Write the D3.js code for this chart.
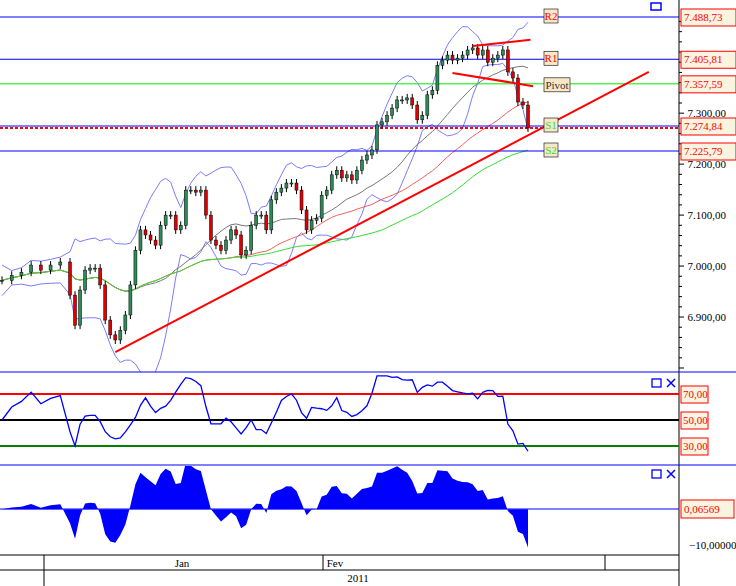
<!DOCTYPE html>
<html>
<head>
<meta charset="UTF-8">
<script src="https://d3js.org/d3.v7.min.js"></script>
<style>
  body { margin: 0; background: #fff; }
  text { font-family: "Liberation Serif", serif; font-size: 11px; }
</style>
</head>
<body>
<svg width="736" height="586"></svg>
<script>
// closes
const closes = [6972,6982,6988,7002,6992,7002,7008,6943,6884,6953,6992,6996,6996,6963,6894,6865,6855,6874,6904,6963,
  7031,7071,7061,7051,7041,7080,7100,7100,7071,7080,7149,7149,7145,7149,7100,7051,7041,7031,7051,7071,
  7061,7022,7031,7080,7100,7100,7071,7130,7145,7153,7163,7163,7149,7110,7071,7090,7094,7139,7149,7179,
  7188,7173,7179,7169,7188,7208,7218,7228,7277,7283,7296,7310,7326,7326,7330,7316,7287,7296,7336,7345,
  7394,7404,7414,7404,7408,7414,7424,7428,7414,7424,7400,7408,7414,7424,7381,7369,7322,7316,7271];
const pivotNames = ["R2", "R1", "Pivot", "S1", "S2"];
const pivotValues = [7488.73, 7405.81, 7357.59, 7274.84, 7225.79];
const pivotColors = ["blue", "blue", "#00ee00", "blue", "blue"];
const priceTicks = [7300, 7200, 7100, 7000, 6900];
const rsiLevels = [70, 50, 30];
const rsiColors = ["red", "black", "green"];
const trendLine = [[16, 6831], [122, 7381]];
const channelUp = [[87, 7432], [98.5, 7444]];
const channelDn = [[83, 7379], [99, 7353]];
const months = [{name: "Jan", x: 182}, {name: "Fev", x: 335}];

const svg = d3.select("svg");
const loc = d3.formatLocale({decimal: ",", thousands: ".", grouping: [3], currency: ["", ""]});
const f2 = loc.format(",.2f");
const axisX = 679;

const x = d3.scaleLinear().domain([0, 7, 98]).range([2, 70, 528]);
const y = d3.scaleLinear().domain([7488.73, 7225.79]).range([17, 151]);

// indicators from closes
function sma(n) {
  return closes.map((c, i) => d3.mean(closes.slice(Math.max(0, i - n + 1), i + 1)));
}
const ma20 = sma(20), ma40 = sma(40), ma70 = sma(70);
const bb = closes.map((c, i) => {
  const w = closes.slice(Math.max(0, i - 9), i + 1);
  return [d3.mean(w), 2 * (d3.deviation(w) || 15)];
});

const main = svg.append("g");
main.append("clipPath").attr("id", "cm").append("rect").attr("width", axisX).attr("height", 372);
const g = main.append("g").attr("clip-path", "url(#cm)");

const line = arr => d3.line().x((d, i) => x(i)).y(d => y(d))(arr);
g.append("path").attr("d", line(bb.map(b => b[0] + b[1]))).attr("fill", "none").attr("stroke", "#7b7bff").attr("stroke-width", 1);
g.append("path").attr("d", line(bb.map(b => b[0] - b[1]))).attr("fill", "none").attr("stroke", "#7b7bff").attr("stroke-width", 1);
g.append("path").attr("d", line(ma20)).attr("fill", "none").attr("stroke", "#777").attr("stroke-width", 1);
g.append("path").attr("d", line(ma40)).attr("fill", "none").attr("stroke", "#f06060").attr("stroke-width", 1);
g.append("path").attr("d", line(ma70)).attr("fill", "none").attr("stroke", "#33dd33").attr("stroke-width", 1);

// pivot lines
pivotValues.forEach((v, i) => {
  g.append("line").attr("x1", 0).attr("x2", axisX).attr("y1", y(v)).attr("y2", y(v))
    .attr("stroke", pivotColors[i]).attr("stroke-width", 1);
});
g.append("line").attr("x1", 0).attr("x2", axisX).attr("y1", y(pivotValues[3]) + 2).attr("y2", y(pivotValues[3]) + 2)
  .attr("stroke", "red").attr("stroke-width", 2).attr("stroke-dasharray", "3,2");

// candles
closes.forEach((c, i) => {
  const o = i ? closes[i - 1] : c;
  const hi = Math.max(o, c), lo = Math.min(o, c);
  g.append("line").attr("x1", x(i)).attr("x2", x(i)).attr("y1", y(hi) - 4).attr("y2", y(lo) + 4).attr("stroke", "#000");
  g.append("rect").attr("x", x(i) - 1.5).attr("width", 3).attr("y", y(hi)).attr("height", Math.max(1, y(lo) - y(hi)))
    .attr("fill", c >= o ? "#2e8b57" : "#e00000").attr("stroke", "#000").attr("stroke-width", 0.5);
});

// trend lines
[trendLine, channelUp, channelDn].forEach(pts => {
  g.append("line").attr("x1", x(pts[0][0])).attr("y1", y(pts[0][1])).attr("x2", x(pts[1][0])).attr("y2", y(pts[1][1]))
    .attr("stroke", "red").attr("stroke-width", 2);
});

// pivot labels
pivotNames.forEach((n, i) => {
  const yy = y(pivotValues[i]) + (i === 2 ? 1 : -1);
  const w = n === "Pivot" ? 26 : 14;
  g.append("rect").attr("x", 544).attr("y", yy - 7).attr("width", w).attr("height", 14)
    .attr("fill", "#f8e8c8").attr("stroke", "#000").attr("stroke-width", 0.6);
  g.append("text").attr("x", 544 + w / 2).attr("y", yy + 4).attr("text-anchor", "middle")
    .attr("fill", i < 2 ? "red" : i === 2 ? "#333" : "#33dd33").text(n);
});

// right axis
svg.append("line").attr("x1", axisX).attr("x2", axisX).attr("y1", 0).attr("y2", 586).attr("stroke", "#000");
d3.range(6800, 7500, 20).forEach(t => {
  if (y(t) < 0 || y(t) > 368) return;
  svg.append("line").attr("x1", axisX).attr("x2", axisX + (t % 100 ? 3 : 5)).attr("y1", y(t)).attr("y2", y(t)).attr("stroke", "#000");
});
priceTicks.forEach(t => {
  svg.append("text").attr("x", 726).attr("y", y(t) + 4).attr("text-anchor", "end").text(f2(t));
});
pivotValues.forEach(v => {
  svg.append("rect").attr("x", 681).attr("y", y(v) - 8).attr("width", 55).attr("height", 17)
    .attr("fill", "#f8f4e0").attr("stroke", "red");
  svg.append("text").attr("x", 684).attr("y", y(v) + 4).attr("fill", "red").text(f2(v));
});
svg.append("rect").attr("x", 651).attr("y", 3).attr("width", 10).attr("height", 7).attr("fill", "none").attr("stroke", "blue").attr("stroke-width", 1.5);

// panel separators
[372, 465].forEach(yy => svg.append("line").attr("x1", 0).attr("x2", 736).attr("y1", yy).attr("y2", yy).attr("stroke", "blue"));

// RSI panel
const gains = closes.map((c, i) => i ? Math.max(0, c - closes[i - 1]) : 0);
const losses = closes.map((c, i) => i ? Math.max(0, closes[i - 1] - c) : 0);
const rsi = closes.map((c, i) => {
  const a = Math.max(1, i - 13);
  const gsum = d3.sum(gains.slice(a, i + 1)) + 20, lsum = d3.sum(losses.slice(a, i + 1)) + 20;
  return 100 * gsum / (gsum + lsum);
});
const yr = d3.scaleLinear().domain([70, 30]).range([394, 446]);
rsiLevels.forEach((l, i) => {
  svg.append("line").attr("x1", 0).attr("x2", axisX).attr("y1", yr(l)).attr("y2", yr(l)).attr("stroke", rsiColors[i]).attr("stroke-width", 2);
  svg.append("rect").attr("x", 681).attr("y", yr(l) - 8).attr("width", 27).attr("height", 17).attr("fill", "#f8f4e0").attr("stroke", "red");
  svg.append("text").attr("x", 683).attr("y", yr(l) + 4).attr("fill", "red").text(f2(l));
});
svg.append("path").attr("d", d3.line().x((d, i) => x(i)).y(d => yr(Math.max(16, Math.min(84, d))))(rsi))
  .attr("fill", "none").attr("stroke", "blue").attr("stroke-width", 1.3);

// oscillator panel
const osc = closes.map((c, i) => (c - ma20[i]) / 11);
const yo = d3.scaleLinear().domain([0.06569, -10]).range([509, 545]);
svg.append("clipPath").attr("id", "co").append("rect").attr("y", 466).attr("width", axisX).attr("height", 89);
svg.append("path").attr("clip-path", "url(#co)")
  .attr("d", d3.area().x((d, i) => x(i)).y0(yo(0)).y1(d => yo(d))(osc)).attr("fill", "blue");
svg.append("line").attr("x1", 0).attr("x2", axisX).attr("y1", yo(0.06569)).attr("y2", yo(0.06569)).attr("stroke", "blue");
svg.append("rect").attr("x", 681).attr("y", yo(0.06569) - 9).attr("width", 53).attr("height", 18).attr("fill", "#f8f4e0").attr("stroke", "red");
svg.append("text").attr("x", 684).attr("y", yo(0.06569) + 4).attr("fill", "red").text("0,06569");
svg.append("text").attr("x", 689).attr("y", yo(-10) + 4).text(loc.format(",.5f")(-10));

// panel icons
[379, 470].forEach(yy => {
  svg.append("rect").attr("x", 652).attr("y", yy).attr("width", 9).attr("height", 8).attr("fill", "none").attr("stroke", "blue").attr("stroke-width", 1.3);
  svg.append("path").attr("d", `M667,${yy} l8,8 M675,${yy} l-8,8`).attr("stroke", "blue").attr("stroke-width", 1.5);
});

// time axis
svg.append("line").attr("x1", 0).attr("x2", axisX).attr("y1", 555).attr("y2", 555).attr("stroke", "#000");
svg.append("line").attr("x1", 0).attr("x2", axisX).attr("y1", 570).attr("y2", 570).attr("stroke", "#000");
[44, 323, 605].forEach(xx => svg.append("line").attr("x1", xx).attr("x2", xx).attr("y1", 555).attr("y2", 570).attr("stroke", "#000"));
svg.append("line").attr("x1", 44).attr("x2", 44).attr("y1", 570).attr("y2", 586).attr("stroke", "#000");
months.forEach(m => svg.append("text").attr("x", m.x).attr("y", 567).attr("text-anchor", "middle").text(m.name));
svg.append("text").attr("x", 358).attr("y", 582).attr("text-anchor", "middle").text("2011");
</script>
</body>
</html>
